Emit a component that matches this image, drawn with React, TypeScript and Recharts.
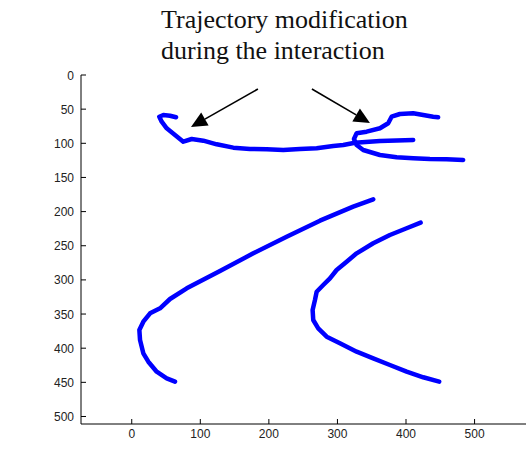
import React from "react";
import {
  LineChart,
  Line,
  XAxis,
  YAxis,
  ReferenceLine,
} from "recharts";

// trajectory samples (x, y in plot units, y grows downward)
const pathA = [
  { x: 64.6, y: 61.9 },
  { x: 55.8, y: 59.6 },
  { x: 46.1, y: 58.6 },
  { x: 40.2, y: 61.1 },
  { x: 43.7, y: 68.4 },
  { x: 51.0, y: 78.0 },
  { x: 63.1, y: 87.8 },
  { x: 75.2, y: 97.7 },
  { x: 87.5, y: 93.7 },
  { x: 104.4, y: 96.2 },
  { x: 123.9, y: 101.5 },
  { x: 148.1, y: 106.4 },
  { x: 172.4, y: 108.3 },
  { x: 196.8, y: 108.8 },
  { x: 221.0, y: 109.8 },
  { x: 245.3, y: 108.3 },
  { x: 269.7, y: 107.3 },
  { x: 293.9, y: 104.0 },
  { x: 308.5, y: 102.5 },
  { x: 325.5, y: 99.1 },
  { x: 362.0, y: 96.6 },
  { x: 410.5, y: 95.2 },
];

const pathB = [
  { x: 446.9, y: 61.9 },
  { x: 439.6, y: 61.1 },
  { x: 425.1, y: 58.6 },
  { x: 410.5, y: 56.1 },
  { x: 391.1, y: 57.1 },
  { x: 379.0, y: 61.1 },
  { x: 374.0, y: 70.7 },
  { x: 362.0, y: 78.0 },
  { x: 342.6, y: 83.0 },
  { x: 328.0, y: 85.4 },
  { x: 324.1, y: 93.7 },
  { x: 328.0, y: 102.5 },
  { x: 337.6, y: 109.8 },
  { x: 362.0, y: 117.1 },
  { x: 386.3, y: 120.5 },
  { x: 410.5, y: 122.0 },
  { x: 434.8, y: 123.0 },
  { x: 459.2, y: 123.4 },
  { x: 483.4, y: 124.4 },
];

const pathC = [
  { x: 352.2, y: 182.0 },
  { x: 323.0, y: 192.8 },
  { x: 274.5, y: 213.3 },
  { x: 225.9, y: 236.7 },
  { x: 177.3, y: 261.1 },
  { x: 128.7, y: 287.0 },
  { x: 80.2, y: 312.3 },
  { x: 55.8, y: 328.0 },
  { x: 41.3, y: 341.6 },
  { x: 26.7, y: 348.9 },
  { x: 16.9, y: 361.2 },
  { x: 11.1, y: 373.3 },
  { x: 12.1, y: 388.0 },
  { x: 16.9, y: 407.5 },
  { x: 24.2, y: 419.8 },
  { x: 36.4, y: 434.4 },
  { x: 51.0, y: 444.1 },
  { x: 63.1, y: 449.0 },
];

const pathD = [
  { x: 421.3, y: 216.2 },
  { x: 400.9, y: 224.4 },
  { x: 376.5, y: 234.3 },
  { x: 352.2, y: 246.4 },
  { x: 328.0, y: 261.1 },
  { x: 313.4, y: 273.3 },
  { x: 298.8, y: 285.5 },
  { x: 289.1, y: 297.7 },
  { x: 279.3, y: 307.5 },
  { x: 269.7, y: 317.3 },
  { x: 267.2, y: 329.4 },
  { x: 263.8, y: 344.1 },
  { x: 264.7, y: 358.7 },
  { x: 272.0, y: 370.9 },
  { x: 284.3, y: 383.2 },
  { x: 303.6, y: 392.8 },
  { x: 328.0, y: 405.1 },
  { x: 352.2, y: 414.8 },
  { x: 376.5, y: 424.6 },
  { x: 400.9, y: 434.4 },
  { x: 425.1, y: 442.6 },
  { x: 448.4, y: 449.0 },
];

const paths = [pathA, pathB, pathC, pathD];

const xTicks = [0, 100, 200, 300, 400, 500];
const yTicks = [0, 50, 100, 150, 200, 250, 300, 350, 400, 450, 500];

// annotation arrows: start point and tip, in plot units
const arrowLeft = [
  { x: 184, y: 20.5 },
  { x: 86.4, y: 76.1 },
];
const arrowRight = [
  { x: 262.8, y: 20.5 },
  { x: 347.4, y: 70.3 },
];

const titleLines = ["Trajectory modification", "during the interaction"];

const tickFont = "'Liberation Sans', Arial, sans-serif";

const XTick = (props: any) => {
  const { x, y, payload } = props;
  return (
    <g>
      <line x1={x} x2={x} y1={y} y2={y - 5} stroke="#000" />
      <text x={x} y={y + 14} textAnchor="middle" fontSize={12} fill="#222" fontFamily={tickFont}>
        {payload.value}
      </text>
    </g>
  );
};

const YTick = (props: any) => {
  const { x, y, payload } = props;
  return (
    <g>
      <line x1={x} x2={x + 5} y1={y} y2={y} stroke="#000" />
      <text x={x - 7} y={y + 4.5} textAnchor="end" fontSize={12} fill="#222" fontFamily={tickFont}>
        {payload.value}
      </text>
    </g>
  );
};

const Arrow = (props: any) => {
  const { x1, y1, x2, y2 } = props;
  const ang = Math.atan2(y2 - y1, x2 - x1);
  const len = 16;
  const half = 7.5;
  const bx = x2 - len * Math.cos(ang);
  const by = y2 - len * Math.sin(ang);
  const px = -Math.sin(ang) * half;
  const py = Math.cos(ang) * half;
  return (
    <g>
      <line x1={x1} y1={y1} x2={bx} y2={by} stroke="#000" strokeWidth={1.6} />
      <polygon
        points={`${x2},${y2} ${bx + px},${by + py} ${bx - px},${by - py}`}
        fill="#000"
      />
    </g>
  );
};

export default function App() {
  return (
    <div style={{ position: "absolute", left: 0, top: 0, width: 526, height: 450, background: "#fff" }}>
      <LineChart
        width={526}
        height={450}
        margin={{ top: 75, right: 0, bottom: 0, left: 0 }}
      >
        <XAxis
          type="number"
          dataKey="x"
          domain={[-74, 575]}
          allowDataOverflow
          ticks={xTicks}
          tick={<XTick />}
          tickLine={false}
          tickSize={0}
          tickMargin={0}
          height={26}
          axisLine={{ stroke: "#000" }}
        />
        <YAxis
          type="number"
          dataKey="y"
          domain={[0, 511]}
          reversed
          allowDataOverflow
          ticks={yTicks}
          tick={<YTick />}
          tickLine={false}
          tickSize={0}
          tickMargin={0}
          width={81}
          axisLine={{ stroke: "#000" }}
        />
        {paths.map((p, i) => (
          <Line
            key={i}
            data={p}
            dataKey="y"
            type="linear"
            stroke="#0000ff"
            strokeWidth={4.5}
            strokeLinecap="round"
            strokeLinejoin="round"
            dot={false}
            activeDot={false}
            isAnimationActive={false}
          />
        ))}
        <ReferenceLine segment={arrowLeft} ifOverflow="visible" shape={(p: any) => <Arrow {...p} />} />
        <ReferenceLine segment={arrowRight} ifOverflow="visible" shape={(p: any) => <Arrow {...p} />} />
      </LineChart>
      <svg
        width={526}
        height={75}
        style={{ position: "absolute", left: 0, top: 0, pointerEvents: "none" }}
      >
        {titleLines.map((t, i) => (
          <text
            key={i}
            x={161}
            y={27.5 + i * 31}
            fontSize={26}
            fill="#111"
            fontFamily="'Liberation Serif', 'Times New Roman', serif"
          >
            {t}
          </text>
        ))}
      </svg>
    </div>
  );
}
